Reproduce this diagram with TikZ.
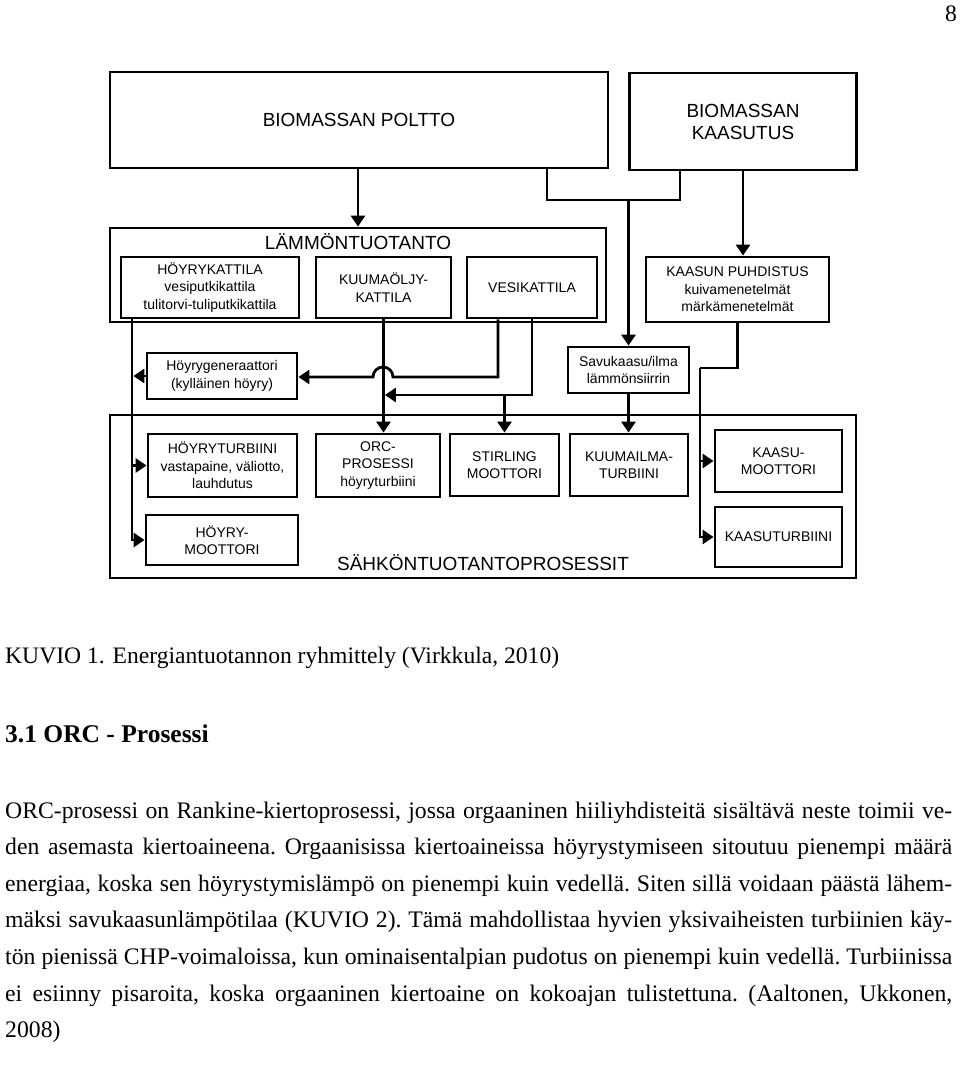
\documentclass[tikz,border=0pt]{standalone}
\usepackage{fontspec}
\setmainfont{Liberation Serif}
\newfontfamily\diafont{Liberation Sans}
\usetikzlibrary{arrows.meta}

\tikzset{
  box/.style={draw, line width=2.8pt, align=center, inner sep=0pt, font=\diafont\fontsize{14}{17.5}\selectfont},
  bigbox/.style={box, font=\diafont\fontsize{19}{22}\selectfont},
  frame/.style={draw, line width=2.8pt, inner sep=0pt},
  ttl/.style={inner sep=0pt, anchor=base, font=\diafont\fontsize{19}{22}\selectfont},
  link/.style={line width=2.8pt},
  txt/.style={inner sep=0pt, anchor=base west, font=\fontsize{23.6}{28}\selectfont},
}

\begin{document}
\begin{tikzpicture}[x=1pt, y=-1pt, >={Triangle[length=11pt,width=14pt]}]
  \useasboundingbox (0,0) rectangle (960,1074);
  % kehykset
  \node[frame, minimum width=496, minimum height=94] (lampo) at (358,275) {};
  \node[frame, minimum width=746, minimum height=163] (sahko) at (483,496.5) {};
  \node[ttl] (lampotxt) at (358,249) {LÄMMÖNTUOTANTO};
  \node[ttl] (sahkotxt) at (483,570) {SÄHKÖNTUOTANTOPROSESSIT};
  % lähteet
  \node[bigbox, minimum width=498, minimum height=96] (polt) at (359,120) {BIOMASSAN POLTTO};
  \node[bigbox, minimum width=227, minimum height=97] (kaas) at (743,121.5) {BIOMASSAN\\KAASUTUS};
  % lämmöntuotanto
  \node[box, minimum width=178, minimum height=61] (hkat) at (210,287.5) {HÖYRYKATTILA\\vesiputkikattila\\tulitorvi-tuliputkikattila};
  \node[box, minimum width=135, minimum height=61] (koljy) at (383.5,287.5) {KUUMAÖLJY-\\KATTILA};
  \node[box, minimum width=130, minimum height=61] (vkat) at (532,287.5) {VESIKATTILA};
  \node[box, minimum width=183, minimum height=65] (puhd) at (737.5,289.5) {KAASUN PUHDISTUS\\kuivamenetelmät\\märkämenetelmät};
  \node[box, minimum width=150, minimum height=46] (hgen) at (222,376) {Höyrygeneraattori\\(kylläinen höyry)};
  \node[box, minimum width=121, minimum height=46] (savu) at (628.5,370) {Savukaasu/ilma\\lämmönsiirrin};
  % sähköntuotanto
  \node[box, minimum width=149, minimum height=63] (hturb) at (222.5,465.5) {HÖYRYTURBIINI\\vastapaine, väliotto,\\lauhdutus};
  \node[box, minimum width=124, minimum height=63] (orc) at (378,465.5) {ORC-\\PROSESSI\\höyryturbiini};
  \node[box, minimum width=109, minimum height=62] (stir) at (504.5,465) {STIRLING\\MOOTTORI};
  \node[box, minimum width=118, minimum height=62] (kuum) at (629,465) {KUUMAILMA-\\TURBIINI};
  \node[box, minimum width=127, minimum height=62] (kmoot) at (778.5,461) {KAASU-\\MOOTTORI};
  \node[box, minimum width=127, minimum height=60] (kturb) at (778.5,537) {KAASUTURBIINI};
  \node[box, minimum width=152, minimum height=50] (hmoot) at (222,540) {HÖYRY-\\MOOTTORI};
  % johdot
  \coordinate (jl) at (547,200);
  \coordinate (jr) at (680,200);
  \coordinate (gk) at (700,368);
  \coordinate (hk) at (132,377);
  \coordinate (va) at (498,377);
  \coordinate (vb) at (532,395);
  \coordinate (hop) at (393,377);
  \draw[link,->] (polt.south -| lampo) -- (lampo.north);
  \draw[link] (polt.south -| jl) -- (jl) -- (jr) -- (kaas.south -| jr);
  \draw[link,->] (savu.north |- jl) -- (savu.north);
  \draw[link,->] (kaas.south) -- (kaas.south |- puhd.north);
  \draw[link] (puhd.south) -- (puhd.south |- gk) -- (gk);
  \draw[link,->] (gk) -- (gk |- kturb.west) -- (kturb.west);
  \draw[link,->] (gk |- kmoot.west) -- (kmoot.west);
  \draw[link,->] (hkat.south -| hk) -- (hk |- hmoot.west) -- (hmoot.west);
  \draw[link,->] (hk |- hturb.west) -- (hturb.west);
  \draw[link,->,shorten >=1.4pt] (hgen.west) -- (hk |- hgen.west);
  \draw[link,->] (koljy.south) -- (koljy.south |- orc.north);
  \draw[link,->] (vkat.south -| va) -- (va) -- (hop) arc[start angle=0, end angle=180, radius=10pt] -- (hgen.east |- va);
  \draw[link,->,shorten >=1.4pt] (vkat.south) -- (vb) -- (koljy.south |- vb);
  \draw[link,->] (stir.north |- vb) -- (stir.north);
  \draw[link,->] (savu.south) -- (savu.south |- kuum.north);
  % teksti
  \node[txt, anchor=base east] (pnum) at (957,21) {8};
  \node[txt] (cap) at (5,663) {KUVIO 1. Energiantuotannon ryhmittely (Virkkula, 2010)};
  \node[txt, font=\bfseries\fontsize{25.5}{30}\selectfont] (head) at (5,742) {3.1 ORC - Prosessi};
  \node[txt, text width=947pt, align=justify, font=\fontsize{23.7}{36.6}\selectfont] (para) at (5,818)
    {\frenchspacing\tolerance=9999\relax\hyphenpenalty=10000\relax\exhyphenpenalty=10000\relax
     ORC-prosessi on Rankine-kiertoprosessi, jossa orgaaninen hiiliyhdisteitä sisältävä neste toimii ve-\linebreak
     den asemasta kiertoaineena. Orgaanisissa kiertoaineissa höyrystymiseen sitoutuu pienempi määrä\linebreak
     energiaa, koska sen höyrystymislämpö on pienempi kuin vedellä. Siten sillä voidaan päästä lähem-\linebreak
     mäksi savukaasunlämpötilaa (KUVIO 2). Tämä mahdollistaa hyvien yksivaiheisten turbiinien käy-\linebreak
     tön pienissä CHP-voimaloissa, kun ominaisentalpian pudotus on pienempi kuin vedellä. Turbiinissa\linebreak
     ei esiinny pisaroita, koska orgaaninen kiertoaine on kokoajan tulistettuna. (Aaltonen, Ukkonen,\linebreak
     2008)};
\end{tikzpicture}
\end{document}
